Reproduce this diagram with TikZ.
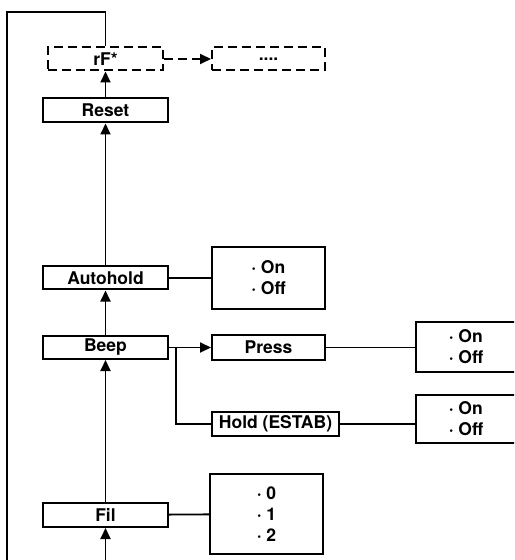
\documentclass[tikz,border=0pt]{standalone}
\usepackage{fontspec}
\setmainfont{TeX Gyre Heros}
\usetikzlibrary{arrows.meta,positioning}

\begin{document}
\begin{tikzpicture}[
    x=0.5pt,
    y=-0.5pt,
    >={Triangle[length=5.5pt,width=5pt]},
    font=\fontsize{8.75pt}{10.5pt}\selectfont\bfseries,
    item/.style={draw, line width=1pt, minimum width=62.5pt, minimum height=11.5pt, inner sep=0pt},
    dashbox/.style={item, dash pattern=on 4.5pt off 2.5pt},
    option/.style={draw, line width=1pt, align=left, inner sep=0pt},
    line/.style={line width=0.9pt}
]
\clip (0,0) rectangle (514,560);
\node[dashbox, minimum width=57.5pt] (rf) at (105.5,59) {rF*};
\node[dashbox, minimum width=56.5pt] (more) at (268.5,59) {....};
\node[item, minimum height=12pt] (reset) at (105.5,110.5) {Reset};
\node[item] (autohold) at (105.5,278) {Autohold};
\node[item] (beep) at (105.5,347.5) {Beep};
\node[item, minimum height=12pt] (fil) at (105.5,515) {Fil};
\node[option, minimum width=56.5pt, minimum height=31pt] (autoholdopt) at (268.5,278) {· On\\· Off};
\node[item, minimum width=56.5pt, minimum height=12.5pt] (press) at (268.5,347.5) {Press};
\node[option, minimum width=50pt, minimum height=25pt] (pressopt) at (466,347) {· On\\· Off};
\node[item, minimum width=63.5pt, minimum height=12pt] (hold) at (275.5,424) {Hold (ESTAB)};
\node[option, minimum width=50pt, minimum height=24pt] (holdopt) at (466,419) {· On\\· Off};
\node[option, minimum width=56.5pt, minimum height=40pt] (filopt) at (266.5,514) {· 0\\· 1\\· 2};
\coordinate (bottom) at (105.5,560);
\coordinate (loopbottom) at (7,560);
\coordinate (looptop) at (105.5,12);
\coordinate (branch) at (176,347.5);

\draw[line,->] (bottom) -- (fil);
\draw[line,->] (fil) -- (beep);
\draw[line,->] (beep) -- (autohold);
\draw[line,->] (autohold) -- (reset);
\draw[line,->] (reset) -- (rf);
\draw[line,->,dash pattern=on 4.5pt off 2.5pt] (rf) -- (more);
\draw[line] (loopbottom) |- (looptop) -- (rf);
\draw[line] (autohold) -- (autoholdopt);
\draw[line] (beep) -- (branch);
\draw[line,->] (branch) -- (press);
\draw[line] (branch) |- (hold);
\draw[line] (press.east) -- (press.east -| pressopt.west);
\draw[line] (hold.east) -- (hold.east -| holdopt.west);
\draw[line] (fil) -- (filopt);
\end{tikzpicture}
\end{document}
